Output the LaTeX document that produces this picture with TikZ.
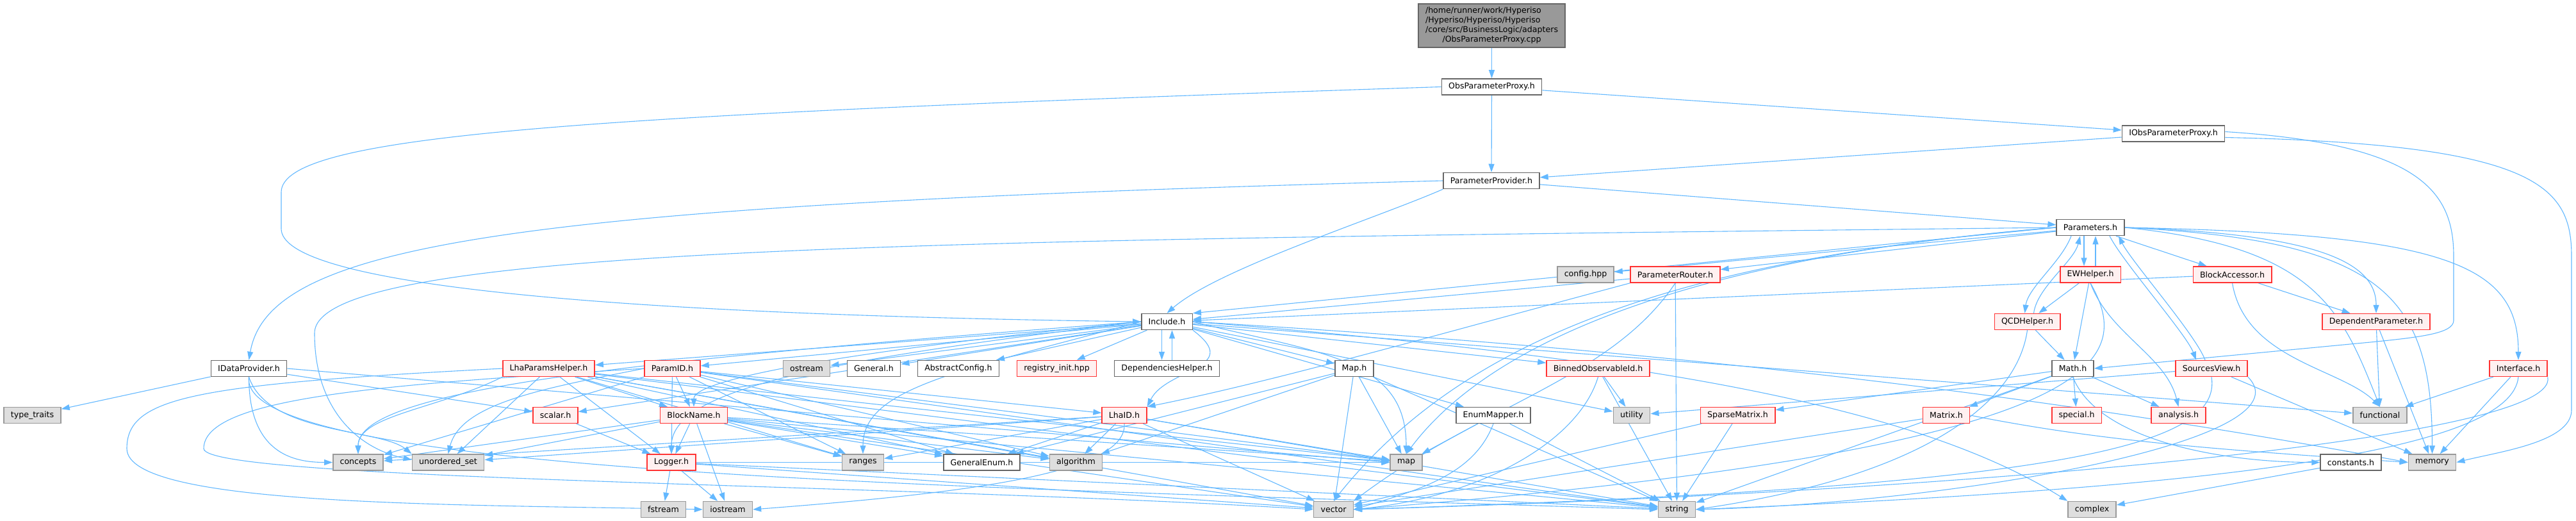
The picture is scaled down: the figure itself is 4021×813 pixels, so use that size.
\documentclass[tikz,border=0pt]{standalone}
\usepackage{fontspec}
\setmainfont{DejaVu Sans}
\usetikzlibrary{arrows.meta}
\definecolor{edgeblue}{HTML}{63B8FF}
\definecolor{sysfill}{HTML}{DEDEDE}
\definecolor{sysline}{HTML}{999999}
\definecolor{fileline}{HTML}{666666}
\definecolor{cutfill}{HTML}{FFF0F0}
\definecolor{cutline}{HTML}{FF3333}
\definecolor{mainfill}{HTML}{999999}
\pgfdeclarelayer{edges}
\pgfsetlayers{edges,main}

\begin{document}
\begin{tikzpicture}[x=1pt,y=-1pt,->,>={Triangle[length=13pt,width=9pt]},
	dep/.style={draw=edgeblue,line width=1.1pt},
	basenode/.style={rectangle,line width=1.5pt,inner xsep=10.8pt,inner ysep=0pt,minimum height=25pt,font=\fontsize{12.6}{15}\selectfont},
	sysnode/.style={basenode,draw=sysline,fill=sysfill},
	filenode/.style={basenode,draw=fileline,fill=white},
	cutnode/.style={basenode,draw=cutline,fill=cutfill},
	mainnode/.style={basenode,draw=fileline,fill=mainfill,inner ysep=4pt}]
	\useasboundingbox (0,0) rectangle (4021,813);
	% files
	\node [mainnode] (cpp) at (2328.5, 40) {\begin{tabular}{@{}l@{}}/home/runner/work/Hyperiso\\/Hyperiso/Hyperiso/Hyperiso\\/core/src/BusinessLogic/adapters\\\multicolumn{1}{@{}c@{}}{/ObsParameterProxy.cpp}\end{tabular}};
	\node [filenode] (opph) at (2328.5, 135.5) {ObsParameterProxy.h};
	\node [filenode] (iopph) at (3392.5, 208.5) {IObsParameterProxy.h};
	\node [filenode] (pprov) at (2328, 282) {ParameterProvider.h};
	\node [filenode] (params) at (3263, 355) {Parameters.h};
	\node [sysnode] (config) at (2475, 428.5) {config.hpp};
	\node [cutnode] (prouter) at (2615, 428.5) {ParameterRouter.h};
	\node [cutnode] (ewh) at (3263, 428.5) {EWHelper.h};
	\node [cutnode] (bacc) at (3484.5, 428.5) {BlockAccessor.h};
	\node [filenode] (incl) at (1821.5, 502) {Include.h};
	\node [cutnode] (qcdh) at (3164.5, 502) {QCDHelper.h};
	\node [cutnode] (deppar) at (3709, 502) {DependentParameter.h};
	\node [filenode] (idata) at (388.5, 575) {IDataProvider.h};
	\node [cutnode] (lhaph) at (856.5, 575) {LhaParamsHelper.h};
	\node [cutnode] (paramid) at (1049.5, 575) {ParamID.h};
	\node [sysnode] (ostream) at (1259, 575) {ostream};
	\node [filenode] (general) at (1364, 575) {General.h};
	\node [filenode] (absconf) at (1496, 575) {AbstractConfig.h};
	\node [cutnode] (reginit) at (1649.5, 575) {registry\_init.hpp};
	\node [filenode] (dephelp) at (1821.5, 575) {DependenciesHelper.h};
	\node [filenode] (maph) at (2114, 575) {Map.h};
	\node [cutnode] (binobs) at (2494.5, 575) {BinnedObservableId.h};
	\node [filenode] (mathh) at (3235.5, 575) {Math.h};
	\node [cutnode] (srcview) at (3452, 575) {SourcesView.h};
	\node [cutnode] (iface) at (3931, 575) {Interface.h};
	\node [sysnode] (typetr) at (50.5, 648) {type\_traits};
	\node [cutnode] (scalar) at (867, 648) {scalar.h};
	\node [cutnode] (blockn) at (1083, 648) {BlockName.h};
	\node [cutnode] (lhaid) at (1755, 648) {LhaID.h};
	\node [filenode] (enummap) at (2331, 648) {EnumMapper.h};
	\node [sysnode] (utility) at (2547, 648) {utility};
	\node [cutnode] (sparsem) at (2712.5, 648) {SparseMatrix.h};
	\node [cutnode] (matrix) at (3038, 648) {Matrix.h};
	\node [cutnode] (special) at (3241.5, 648) {special.h};
	\node [cutnode] (analysis) at (3400.5, 648) {analysis.h};
	\node [sysnode] (functional) at (3715, 648) {functional};
	\node [sysnode] (concepts) at (559, 721.5) {concepts};
	\node [sysnode] (uset) at (699.5, 721.5) {unordered\_set};
	\node [cutnode] (logger) at (1048, 721.5) {Logger.h};
	\node [sysnode] (ranges) at (1347, 721.5) {ranges};
	\node [filenode] (genenum) at (1532.5, 721.5) {GeneralEnum.h};
	\node [sysnode] (algo) at (1679.5, 721.5) {algorithm};
	\node [sysnode] (map) at (2195, 721.5) {map};
	\node [filenode] (constants) at (3669.5, 721.5) {constants.h};
	\node [sysnode] (memory) at (3796.5, 721.5) {memory};
	\node [sysnode] (fstream) at (1035.5, 795) {fstream};
	\node [sysnode] (iostream) at (1136, 795) {iostream};
	\node [sysnode] (vector) at (2081.5, 795) {vector};
	\node [sysnode] (string) at (2617.5, 795) {string};
	\node [sysnode] (complex) at (3265.5, 795) {complex};
	\begin{pgfonlayer}{edges}
	% top of the graph
	\draw[dep] (cpp) -- (opph);
	\draw[dep] (opph) -- (iopph);
	\draw[dep] (opph) -- (pprov);
	\draw[dep] (opph.west) .. controls (900,180) and (439,210) .. (439,300) -- (439,357) .. controls (439,440) and (900,490) .. (incl.west);
	\draw[dep] (iopph) -- (pprov);
	\draw[dep] ([yshift=3pt]iopph.east) .. controls (3780,225) and (3830,300) .. (3830,400) -- (3830,500) .. controls (3830,520) and (3780,526) .. (3700,534) -- (mathh.east);
	\draw[dep] ([yshift=-6pt]iopph.east) .. controls (3960,225) and (4014,290) .. (4014,400) -- (4014,640) .. controls (4014,690) and (3900,705) .. (memory.east);
	\draw[dep] (pprov) -- (params);
	\draw[dep] (pprov.south west) .. controls (2150,340) and (1900,420) .. (incl.north);
	\draw[dep] (pprov.west) .. controls (800,320) and (420,380) .. (idata.north);
	% Parameters.h
	\draw[dep] (params) -- (config);
	\draw[dep] (params) -- (prouter);
	\draw[dep] (params.west) -- (incl.north east);
	\draw[dep] (params.west) .. controls (1500,375) and (491,380) .. (491,520) .. controls (491,640) and (560,700) .. ([yshift=4pt]uset.west);
	\draw[dep] (params.west) .. controls +(-500,40) and +(150,-200) .. (map.north);
	\draw[dep] (params.west) .. controls +(-600,50) and +(200,-250) .. (vector.north);
	\draw[dep] ([xshift=-10pt]params.south) -- ([xshift=-10pt]ewh.north);
	\draw[dep] ([xshift=8pt]ewh.north) -- ([xshift=8pt]params.south);
	\draw[dep] ([xshift=-30pt]params.south) .. controls +(-15,40) and +(5,-40) .. ([xshift=-4pt]qcdh.north);
	\draw[dep] ([xshift=10pt]qcdh.north) .. controls +(5,-40) and +(-10,40) .. ([xshift=-16pt]params.south);
	\draw[dep] ([xshift=30pt]params.south) .. controls +(20,40) and +(-15,-40) .. ([xshift=-24pt]srcview.north);
	\draw[dep] ([xshift=-10pt]srcview.north) .. controls +(-15,-40) and +(20,40) .. ([xshift=44pt]params.south);
	\draw[dep] (params) -- (bacc);
	\draw[dep] (params.east) .. controls +(300,10) and +(0,-80) .. (deppar.north);
	\draw[dep] (params.east) .. controls +(300,30) and +(-60,-150) .. (functional.north);
	\draw[dep] (params.east) .. controls +(400,20) and +(0,-250) .. (memory.north);
	\draw[dep] (params.east) .. controls +(500,10) and +(0,-150) .. (iface.north);
	% second row
	\draw[dep] (prouter) -- (incl);
	\draw[dep] (prouter.south west) .. controls +(-300,80) and +(200,-40) .. (lhaid.north east);
	\draw[dep] (prouter.south) .. controls +(-100,150) and +(200,-150) .. (vector.north east);
	\draw[dep] (prouter) -- (string);
	\draw[dep] (ewh) -- (qcdh);
	\draw[dep] (ewh) -- (mathh);
	\draw[dep] (ewh.south) .. controls +(30,80) and +(-20,-80) .. (analysis.north);
	\draw[dep] (ewh.south) .. controls (3330,560) and (3310,700) .. (vector.east);
	\draw[dep] (qcdh) -- (mathh);
	\draw[dep] (qcdh.south) .. controls (3150,620) and (3020,740) .. (string.east);
	\draw[dep] (bacc) -- (incl);
	\draw[dep] (bacc) -- (deppar);
	\draw[dep] (bacc.south) .. controls +(20,120) and +(-60,-60) .. (functional.north);
	\draw[dep] (deppar) -- (functional);
	\draw[dep] (deppar) -- (memory);
	\draw[dep] (srcview) -- (memory);
	\draw[dep] (srcview) -- (utility);
	\draw[dep] (srcview.south) .. controls (3470,700) and (3200,760) .. (vector.east);
	\draw[dep] (srcview.south east) .. controls +(100,100) and +(400,-10) .. (string.east);
	\draw[dep] (iface) -- (functional);
	\draw[dep] (iface) -- (memory);
	\draw[dep] (iface.south) .. controls (3920,700) and (3500,760) .. (string.east);
	\draw[dep] (iface.south east) .. controls (4000,690) and (3000,770) .. (vector.east);
	% Math.h and friends
	\draw[dep] (mathh) -- (sparsem);
	\draw[dep] (mathh) -- (matrix);
	\draw[dep] (mathh) -- (special);
	\draw[dep] (mathh) -- (analysis);
	\draw[dep] (mathh.south) .. controls +(40,100) and +(-150,0) .. (constants.west);
	\draw[dep] (mathh) -- (string);
	\draw[dep] (matrix.east) .. controls +(200,40) and +(-300,-20) .. (memory.west);
	\draw[dep] (matrix) -- (vector);
	\draw[dep] (sparsem) -- (string);
	\draw[dep] (sparsem) -- (vector);
	\draw[dep] (constants) -- (complex);
	% Include.h
	\draw[dep] (incl) -- (lhaph);
	\draw[dep] (incl) -- (paramid);
	\draw[dep] (incl) -- (ostream);
	\draw[dep] (incl) -- (general);
	\draw[dep] (incl) -- (absconf);
	\draw[dep] (incl) -- (reginit);
	\draw[dep] ([xshift=-8pt]incl.south) -- ([xshift=-8pt]dephelp.north);
	\draw[dep] ([xshift=8pt]dephelp.north) -- ([xshift=8pt]incl.south);
	\draw[dep] (incl) -- (maph);
	\draw[dep] (incl) -- (binobs);
	\draw[dep] (incl.south east) .. controls +(80,60) and +(30,-60) .. (lhaid.north east);
	\draw[dep] (incl) -- (enummap);
	\draw[dep] (incl.east) .. controls +(200,50) and +(0,-150) .. (map.north);
	\draw[dep] (incl.west) .. controls +(-800,60) and +(0,-100) .. (concepts.north);
	\draw[dep] (incl.west) .. controls +(-500,60) and +(0,-100) .. (logger.north);
	\draw[dep] (incl.west) .. controls +(-500,50) and +(0,-40) .. (blockn.north);
	\draw[dep] (incl) -- (scalar);
	\draw[dep] (incl.west) .. controls +(-300,80) and +(0,-100) .. (ranges.north);
	\draw[dep] (incl) -- (functional);
	\draw[dep] (incl.east) .. controls (2500,540) and (3100,600) .. (memory.west);
	\draw[dep] (incl.east) .. controls (2600,560) and (3000,640) .. (complex.north west);
	\draw[dep] (incl) -- (utility);
	% Map.h, BinnedObservableId.h, EnumMapper.h
	\draw[dep] (maph) -- (map);
	\draw[dep] (maph) -- (vector);
	\draw[dep] (maph) -- (string);
	\draw[dep] (maph) -- (genenum);
	\draw[dep] (maph) -- (algo);
	\draw[dep] (binobs) -- (utility);
	\draw[dep] (binobs.south) .. controls +(-30,100) and +(200,-20) .. (vector.east);
	\draw[dep] (binobs) -- (string);
	\draw[dep] (enummap) -- (map);
	\draw[dep] (enummap.south) .. controls +(-30,80) and +(100,-30) .. (vector.east);
	\draw[dep] (enummap) -- (string);
	% IDataProvider.h
	\draw[dep] (idata) -- (typetr);
	\draw[dep] (idata) -- (scalar);
	\draw[dep] (idata.south) .. controls +(0,120) and +(-60,0) .. (concepts.west);
	\draw[dep] (idata.south) .. controls +(30,90) and +(-50,-40) .. (uset.north west);
	\draw[dep] (idata.east) -- (map.west);
	\draw[dep] (idata.south) .. controls (370,740) and (1500,760) .. (string.west);
	% LhaParamsHelper.h
	\draw[dep] (lhaph) -- (blockn);
	\draw[dep] (lhaph) -- (logger);
	\draw[dep] (lhaph.south west) .. controls +(-100,50) and +(0,-60) .. (concepts.north);
	\draw[dep] (lhaph) -- (uset);
	\draw[dep] (lhaph.west) .. controls (300,600) and (198,620) .. (198,700) .. controls (198,790) and (700,787) .. (iostream.west);
	\draw[dep] (lhaph) -- (map);
	\draw[dep] (lhaph) -- (vector);
	\draw[dep] (lhaph) -- (string);
	\draw[dep] (lhaph) -- (ranges);
	\draw[dep] (lhaph) -- (genenum);
	\draw[dep] (lhaph) -- (algo);
	% ParamID.h
	\draw[dep] (paramid) -- (blockn);
	\draw[dep] (paramid) -- (logger);
	\draw[dep] (paramid) -- (concepts);
	\draw[dep] (paramid.west) .. controls +(-150,30) and +(20,-80) .. (uset.north);
	\draw[dep] (paramid) -- (lhaid);
	\draw[dep] (paramid) -- (genenum);
	\draw[dep] (paramid) -- (ranges);
	\draw[dep] (paramid) -- (algo);
	\draw[dep] (paramid) -- (map);
	\draw[dep] (paramid.west) .. controls (600,600) and (318,620) .. (318,700) .. controls (318,750) and (1400,755) .. (vector.west);
	\draw[dep] (paramid) -- (string);
	% BlockName.h
	\draw[dep] (blockn) -- (logger);
	\draw[dep] (blockn) -- (iostream);
	\draw[dep] (blockn) -- (ranges);
	\draw[dep] (blockn) -- (genenum);
	\draw[dep] (blockn) -- (algo);
	\draw[dep] (blockn) -- (map);
	\draw[dep] (blockn) -- (vector);
	\draw[dep] (blockn) -- (string);
	\draw[dep] (blockn) -- (uset);
	\draw[dep] (blockn) -- (concepts);
	% LhaID.h
	\draw[dep] (lhaid) -- (genenum);
	\draw[dep] (lhaid) -- (algo);
	\draw[dep] (lhaid.south) .. controls (1760,740) and (1500,770) .. (iostream.east);
	\draw[dep] (lhaid) -- (map);
	\draw[dep] (lhaid) -- (vector);
	\draw[dep] (lhaid) -- (string);
	\draw[dep] (lhaid) -- (concepts);
	\draw[dep] (lhaid) -- (uset);
	\draw[dep] (lhaid) -- (ranges);
	% Logger.h, scalar.h
	\draw[dep] (scalar) -- (logger);
	\draw[dep] (logger) -- (fstream);
	\draw[dep] (logger) -- (iostream);
	\draw[dep] (logger) -- (string);
	\draw[dep] (logger) -- (vector);
	\draw[dep] (logger) -- (map);
	\end{pgfonlayer}
\end{tikzpicture}
\end{document}
